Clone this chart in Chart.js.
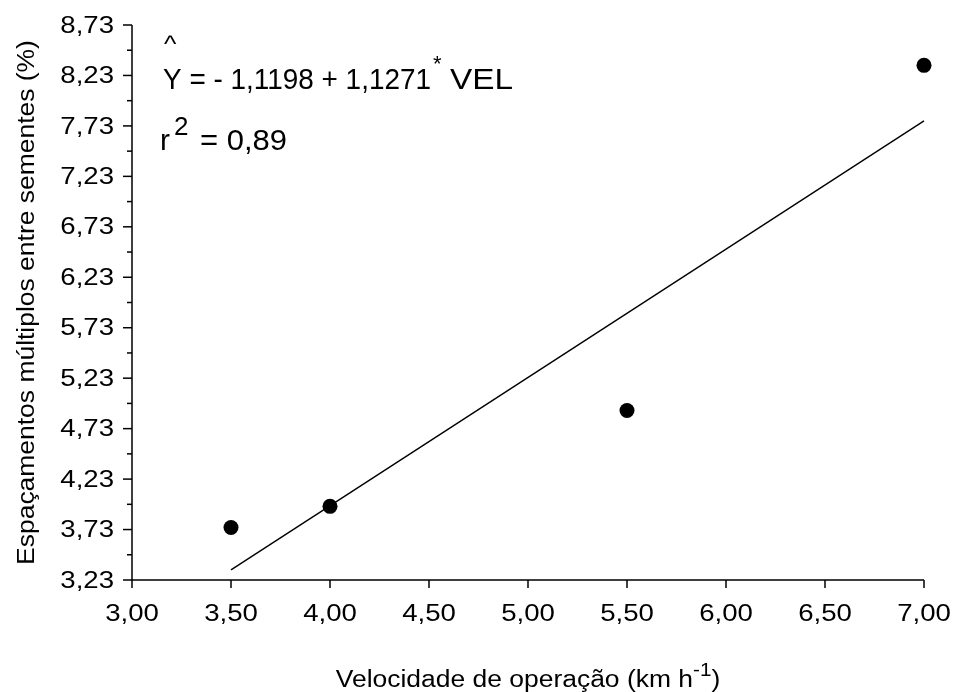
<!DOCTYPE html>
<html>
<head>
<meta charset="utf-8">
<script src="https://cdn.jsdelivr.net/npm/chart.js@4/dist/chart.umd.min.js"></script>
<style>
html,body{margin:0;padding:0;background:#fff;}
canvas{display:block;}
</style>
</head>
<body>
<canvas id="c" width="953" height="692"></canvas>
<script>
// ---- data ----
const speeds   = [3.5, 4.0, 5.5, 7.0];          // km/h
const spacings = [3.75, 3.96, 4.91, 8.33];      // % multiple spacings
const fitX = [3.5, 7.0];                        // regression line ends
const fitY = [3.33, 7.78];
const xTickValues = [3.0, 3.5, 4.0, 4.5, 5.0, 5.5, 6.0, 6.5, 7.0];
const yTickValues = [3.23, 3.73, 4.23, 4.73, 5.23, 5.73, 6.23, 6.73, 7.23, 7.73, 8.23, 8.73];
const xTickLabels = ['3,00','3,50','4,00','4,50','5,00','5,50','6,00','6,50','7,00'];
const yTickLabels = ['3,23','3,73','4,23','4,73','5,23','5,73','6,23','6,73','7,23','7,73','8,23','8,73'];
const xTitle = ['Velocidade de operação (km h', '-1', ')'];
const yTitle = 'Espaçamentos múltiplos entre sementes (%)';
const eqLine = ['Y = - 1,1198 + 1,1271', '*', 'VEL'];
const r2Line = ['r', '2', '= 0,89'];

const FONT = '"Liberation Sans", Arial, sans-serif';
const SX = 1.15; // horizontal stretch of reference lettering

function stretchedText(ctx, str, x, y, align, size, sx) {
  ctx.save();
  ctx.font = size + 'px ' + FONT;
  ctx.translate(x, y);
  ctx.scale(sx, 1);
  ctx.textAlign = align;
  ctx.fillText(str, 0, 0);
  ctx.restore();
}
function textWidth(ctx, str, size, sx) {
  ctx.save();
  ctx.font = size + 'px ' + FONT;
  const w = ctx.measureText(str).width * sx;
  ctx.restore();
  return w;
}
// draw text so that it spans x0..x1
function fitText(ctx, str, x0, x1, y, size) {
  const w = textWidth(ctx, str, size, 1);
  stretchedText(ctx, str, x0, y, 'left', size, (x1 - x0) / w);
}
function drawRuns(ctx, runs, x, y, sx) {
  let cx = x;
  runs.forEach(r => {
    stretchedText(ctx, r.t, cx, y + (r.dy || 0), 'left', r.size, sx);
    cx += textWidth(ctx, r.t, r.size, sx);
  });
  return cx;
}

const decor = {
  id: 'decor',
  afterDraw(chart) {
    const ctx = chart.ctx;
    const xs = chart.scales.x, ys = chart.scales.y;
    const a = chart.chartArea;
    ctx.save();
    ctx.fillStyle = '#000';
    ctx.strokeStyle = '#000';
    ctx.lineWidth = 1.5;
    // axes
    ctx.beginPath();
    ctx.moveTo(a.left, a.top);
    ctx.lineTo(a.left, a.bottom);
    ctx.lineTo(a.right, a.bottom);
    ctx.stroke();
    // y ticks + labels
    ctx.textBaseline = 'middle';
    yTickValues.forEach((v, i) => {
      const py = ys.getPixelForValue(v);
      ctx.beginPath(); ctx.moveTo(a.left - 9, py); ctx.lineTo(a.left, py); ctx.stroke();
      stretchedText(ctx, yTickLabels[i], a.left - 18, py + 1, 'right', 24, SX);
      if (i < yTickValues.length - 1) {
        const pm = ys.getPixelForValue((v + yTickValues[i + 1]) / 2);
        ctx.beginPath(); ctx.moveTo(a.left - 5, pm); ctx.lineTo(a.left, pm); ctx.stroke();
      }
    });
    // x ticks + labels
    xTickValues.forEach((v, i) => {
      const px = xs.getPixelForValue(v);
      ctx.beginPath(); ctx.moveTo(px, a.bottom); ctx.lineTo(px, a.bottom + 8); ctx.stroke();
      stretchedText(ctx, xTickLabels[i], px, a.bottom + 34, 'center', 24, SX);
    });
    // x title
    ctx.textBaseline = 'alphabetic';
    const runsX = [{t: xTitle[0], size: 23}, {t: xTitle[1], size: 18, dy: -11}, {t: xTitle[2], size: 23}];
    let w = 0; runsX.forEach(r => w += textWidth(ctx, r.t, r.size, SX));
    drawRuns(ctx, runsX, (a.left + a.right) / 2 - w / 2, 687, SX);
    // y title
    ctx.save();
    ctx.translate(34, (a.top + a.bottom) / 2);
    ctx.rotate(-Math.PI / 2);
    ctx.textBaseline = 'alphabetic';
    ctx.save(); ctx.scale(SX, 1); ctx.font = '23px ' + FONT; ctx.textAlign = 'center'; ctx.fillText(yTitle, 0, 0); ctx.restore();
    ctx.restore();
    // annotation
    stretchedText(ctx, '^', 164, 52, 'left', 24, 1.1);
    fitText(ctx, eqLine[0], 163, 431, 89, 30);
    stretchedText(ctx, eqLine[1], 433, 71, 'left', 22, 1.0);
    fitText(ctx, eqLine[2], 450, 513, 89, 30);
    fitText(ctx, r2Line[0], 160, 170, 150, 30);
    stretchedText(ctx, r2Line[1], 174, 135, 'left', 26, 1.0);
    fitText(ctx, r2Line[2], 200, 287, 150, 30);
    ctx.restore();
  }
};

new Chart(document.getElementById('c'), {
  type: 'scatter',
  data: {
    datasets: [
      {
        data: speeds.map((x, i) => ({x: x, y: spacings[i]})),
        showLine: false,
        pointRadius: 7.5,
        pointBackgroundColor: '#000',
        pointBorderColor: '#000',
        pointBorderWidth: 0,
        clip: false
      },
      {
        data: fitX.map((x, i) => ({x: x, y: fitY[i]})),
        showLine: true,
        pointRadius: 0,
        borderColor: '#000',
        borderWidth: 1.4,
        fill: false,
        clip: false
      }
    ]
  },
  options: {
    responsive: false,
    animation: false,
    layout: {padding: {top: 25, right: 29, left: 0, bottom: 0}},
    plugins: {legend: {display: false}, tooltip: {enabled: false}},
    scales: {
      x: {
        type: 'linear', min: 3.0, max: 7.0,
        grid: {display: false}, border: {display: false},
        ticks: {display: false},
        afterFit(s) { s.height = 112; }
      },
      y: {
        type: 'linear', min: 3.23, max: 8.73,
        grid: {display: false}, border: {display: false},
        ticks: {display: false},
        afterFit(s) { s.width = 132; }
      }
    }
  },
  plugins: [decor]
});
</script>
</body>
</html>
